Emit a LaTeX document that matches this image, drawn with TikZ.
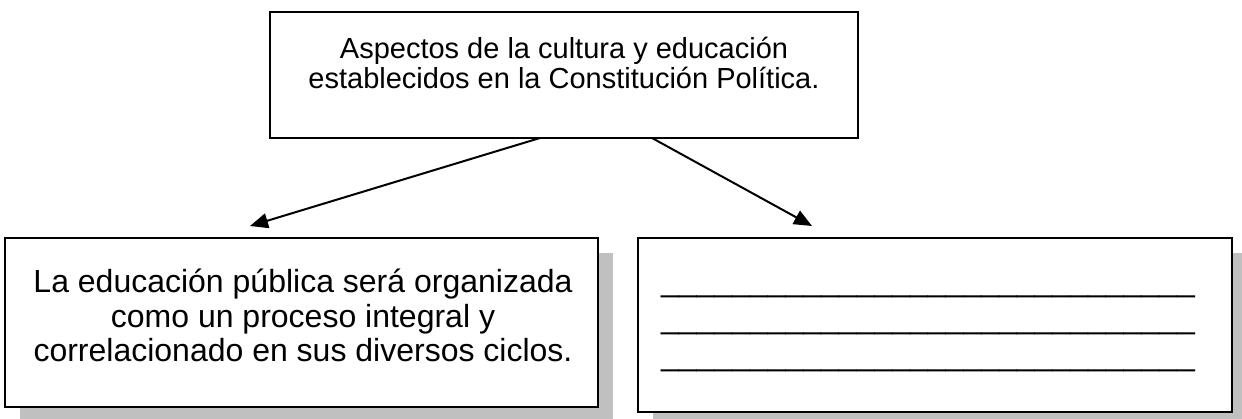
\documentclass[tikz,border=0pt]{standalone}
\usepackage{fontspec}
\setmainfont{Liberation Sans}
\usetikzlibrary{arrows.meta}
\definecolor{shadowgray}{RGB}{192,192,192}
\newcommand{\cstack}[2]{\vtop{\baselineskip=#1\lineskiplimit=-100pt\lineskip=0pt\halign{\hfil##\hfil\cr #2\crcr}}}
\newcommand{\blankrow}{\_\_\_\_\_\_\_\_\_\_\_\_\_\_\_\_\_\_\_\_\_\_\_\_\_\_\_\_\_\_}
\begin{document}
\begin{tikzpicture}[x=1pt,y=-1pt,
  box/.style={draw=black, line width=2.6pt, fill=white, inner sep=0pt, outer sep=0pt},
  shadowbox/.style={fill=shadowgray, draw=none, inner sep=0pt, outer sep=0pt},
  conn/.style={line width=2pt, -{Triangle[length=18pt,width=15pt]}},
  txt/.style={font=\fontsize{32}{34.5}\selectfont, inner sep=0pt, anchor=base},
  toptxt/.style={font=\fontsize{29}{32}\selectfont, inner sep=0pt, anchor=base}]
\useasboundingbox (0,0) rectangle (1242,419);
\clip (0,0) rectangle (1242,419);
% top box
\node[box, minimum width=588pt, minimum height=126pt] (top) at (564,75) {};
\node[toptxt] (toptext) at (564,59) {\cstack{30pt}{Aspectos de la cultura y educación\cr establecidos en la Constitución Política.}};
% shadows
\node[shadowbox, minimum width=593pt, minimum height=169pt] (shL) at (316.5,337.5) {};
\node[shadowbox, minimum width=594pt, minimum height=174pt] (shR) at (950,340) {};
% bottom boxes
\node[box, minimum width=593pt, minimum height=169pt] (left) at (301.5,322.5) {};
\node[box, minimum width=594pt, minimum height=174pt] (right) at (935,325) {};
\node[txt] (lefttext) at (303,293) {\cstack{34.5pt}{La educación pública será organizada\cr como un proceso integral y\cr correlacionado en sus diversos ciclos.}};
\node[txt] (blank) at (928,292) {\cstack{37pt}{\blankrow\cr\blankrow\cr\blankrow}};
% connectors
\coordinate (tipL) at (250,226);
\coordinate (tipR) at (812,226);
\draw[conn] ([xshift=270pt]top.south west) -- (tipL);
\draw[conn] ([xshift=382pt]top.south west) -- (tipR);
\end{tikzpicture}
\end{document}
